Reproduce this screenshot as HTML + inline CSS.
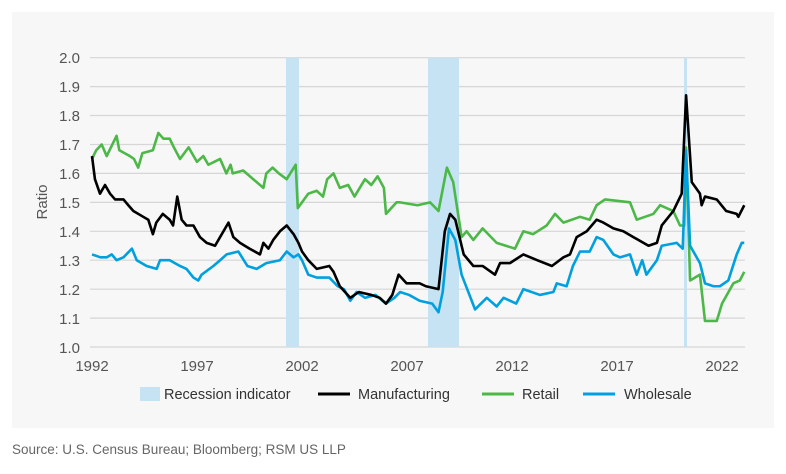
<!DOCTYPE html>
<html><head><meta charset="utf-8"><style>
body{margin:0;background:#fff;width:786px;height:469px;overflow:hidden;font-family:"Liberation Sans",sans-serif}
</style></head><body>
<svg width="786" height="469" xmlns="http://www.w3.org/2000/svg" font-family="Liberation Sans, sans-serif">
<rect x="12" y="12" width="762" height="416" fill="#f7f7f7"/>
<g stroke="#d6d6d6" stroke-width="1.2">
<line x1="90" x2="745" y1="57.7" y2="57.7"/><line x1="90" x2="745" y1="86.6" y2="86.6"/><line x1="90" x2="745" y1="115.5" y2="115.5"/><line x1="90" x2="745" y1="144.5" y2="144.5"/><line x1="90" x2="745" y1="173.4" y2="173.4"/><line x1="90" x2="745" y1="202.4" y2="202.4"/><line x1="90" x2="745" y1="231.3" y2="231.3"/><line x1="90" x2="745" y1="260.2" y2="260.2"/><line x1="90" x2="745" y1="289.2" y2="289.2"/><line x1="90" x2="745" y1="318.1" y2="318.1"/><line x1="90" x2="745" y1="347" y2="347"/>
</g>
<g fill="#c5e3f2">
<rect x="286" y="57.7" width="13" height="289.3"/>
<rect x="428" y="57.7" width="31" height="289.3"/>
<rect x="684" y="57.7" width="3" height="289.3"/>
</g>
<g font-size="15" fill="#555" text-anchor="end">
<text x="80" y="63">2.0</text><text x="80" y="92">1.9</text><text x="80" y="121">1.8</text><text x="80" y="150">1.7</text><text x="80" y="179">1.6</text><text x="80" y="208">1.5</text><text x="80" y="237">1.4</text><text x="80" y="266">1.3</text><text x="80" y="295">1.2</text><text x="80" y="324">1.1</text><text x="80" y="353">1.0</text>
</g>
<g font-size="15" fill="#555" text-anchor="middle">
<text x="92" y="371">1992</text><text x="197" y="371">1997</text><text x="302" y="371">2002</text><text x="407" y="371">2007</text><text x="512" y="371">2012</text><text x="617" y="371">2017</text><text x="722" y="371">2022</text>
</g>
<text transform="translate(47,202) rotate(-90)" font-size="15" fill="#555" text-anchor="middle">Ratio</text>
<g transform="translate(92,347) scale(21,-289.3) translate(-1992,-1)" fill="none" stroke-linejoin="round">
<polyline vector-effect="non-scaling-stroke" stroke="#4cb848" stroke-width="2.6" points="1992,1.65 1992.2,1.68 1992.46,1.70 1992.7,1.66 1993.17,1.73 1993.3,1.68 1993.8,1.66 1994.0,1.65 1994.2,1.62 1994.4,1.67 1994.9,1.68 1995.16,1.74 1995.4,1.72 1995.7,1.72 1995.9,1.69 1996.19,1.65 1996.6,1.69 1997.0,1.64 1997.3,1.66 1997.54,1.63 1998.1,1.65 1998.4,1.60 1998.6,1.63 1998.7,1.60 1999.2,1.61 1999.68,1.58 2000.16,1.55 2000.3,1.60 2000.6,1.62 2000.9,1.60 2001.27,1.58 2001.7,1.63 2001.8,1.48 2002.3,1.53 2002.7,1.54 2003.0,1.52 2003.2,1.58 2003.5,1.60 2003.8,1.55 2004.2,1.56 2004.5,1.52 2005.0,1.58 2005.3,1.56 2005.6,1.59 2005.9,1.55 2006.0,1.46 2006.5,1.50 2006.67,1.50 2007.5,1.49 2008.1,1.50 2008.5,1.47 2008.9,1.62 2009.2,1.57 2009.6,1.38 2009.84,1.40 2010.16,1.37 2010.6,1.41 2011.27,1.36 2012.14,1.34 2012.54,1.40 2013.0,1.39 2013.65,1.42 2014.05,1.46 2014.45,1.43 2015.24,1.45 2015.7,1.44 2016.03,1.49 2016.43,1.51 2017.62,1.50 2017.94,1.44 2018.73,1.46 2019.05,1.49 2019.68,1.47 2020.0,1.42 2020.2,1.42 2020.29,1.69 2020.48,1.23 2020.95,1.25 2021.19,1.09 2021.75,1.09 2022.0,1.15 2022.54,1.22 2022.85,1.23 2023.06,1.26"/>
<polyline vector-effect="non-scaling-stroke" stroke="#00a0df" stroke-width="2.6" points="1992,1.32 1992.4,1.31 1992.7,1.31 1992.94,1.32 1993.17,1.30 1993.5,1.31 1993.9,1.34 1994.13,1.30 1994.6,1.28 1995.08,1.27 1995.24,1.30 1995.7,1.30 1996.19,1.28 1996.5,1.27 1996.83,1.24 1997.06,1.23 1997.22,1.25 1997.78,1.28 1998.1,1.30 1998.41,1.32 1998.97,1.33 1999.4,1.28 1999.84,1.27 2000.3,1.29 2000.95,1.30 2001.27,1.33 2001.6,1.31 2001.83,1.32 2002.0,1.30 2002.3,1.25 2002.7,1.24 2003.3,1.24 2003.7,1.21 2004.0,1.20 2004.3,1.16 2004.6,1.19 2005.0,1.17 2005.5,1.18 2006.0,1.15 2006.4,1.17 2006.67,1.19 2007.1,1.18 2007.6,1.16 2008.2,1.15 2008.5,1.12 2008.7,1.19 2009.0,1.41 2009.3,1.37 2009.6,1.25 2010.24,1.13 2010.8,1.17 2011.27,1.14 2011.6,1.17 2012.2,1.15 2012.54,1.20 2013.33,1.18 2013.97,1.19 2014.13,1.22 2014.6,1.21 2014.9,1.28 2015.24,1.33 2015.7,1.33 2016.03,1.38 2016.35,1.37 2016.83,1.32 2017.14,1.31 2017.62,1.32 2017.94,1.25 2018.2,1.30 2018.4,1.25 2018.9,1.30 2019.13,1.35 2019.84,1.36 2020.13,1.34 2020.29,1.68 2020.48,1.35 2020.95,1.29 2021.19,1.22 2021.6,1.21 2021.9,1.21 2022.3,1.23 2022.7,1.32 2022.94,1.36 2023.06,1.36"/>
<polyline vector-effect="non-scaling-stroke" stroke="#000" stroke-width="2.6" points="1992,1.66 1992.14,1.58 1992.38,1.53 1992.62,1.56 1992.86,1.53 1993.1,1.51 1993.5,1.51 1993.73,1.49 1993.97,1.47 1994.44,1.45 1994.68,1.44 1994.9,1.39 1995.06,1.43 1995.37,1.46 1995.7,1.44 1995.86,1.42 1996.06,1.52 1996.27,1.44 1996.5,1.42 1996.83,1.42 1997.14,1.38 1997.46,1.36 1997.86,1.35 1998.1,1.38 1998.5,1.43 1998.73,1.38 1999.05,1.36 1999.5,1.34 2000.0,1.32 2000.16,1.36 2000.4,1.34 2000.63,1.37 2000.95,1.40 2001.27,1.42 2001.6,1.39 2001.83,1.36 2002.0,1.33 2002.3,1.30 2002.7,1.27 2003.3,1.28 2003.5,1.26 2003.8,1.21 2004.3,1.17 2004.7,1.19 2005.3,1.18 2005.7,1.17 2006.0,1.15 2006.3,1.18 2006.6,1.25 2006.98,1.22 2007.6,1.22 2007.9,1.21 2008.5,1.20 2008.8,1.40 2009.05,1.46 2009.3,1.44 2009.7,1.32 2010.16,1.28 2010.6,1.28 2011.19,1.25 2011.43,1.29 2011.9,1.29 2012.54,1.32 2013.2,1.30 2013.9,1.28 2014.45,1.31 2014.76,1.32 2015.08,1.38 2015.56,1.40 2016.03,1.44 2016.35,1.43 2016.83,1.41 2017.3,1.40 2017.78,1.38 2018.5,1.35 2018.9,1.36 2019.13,1.42 2019.68,1.47 2020.08,1.53 2020.29,1.87 2020.56,1.57 2020.95,1.53 2021.03,1.49 2021.19,1.52 2021.75,1.51 2022.2,1.47 2022.7,1.46 2022.78,1.45 2023.06,1.49"/>
</g>
<g font-size="14.5" fill="#333">
<rect x="140" y="387" width="20" height="14" fill="#c5e3f2"/>
<text x="164" y="399">Recession indicator</text>
<line x1="318" x2="350" y1="394" y2="394" stroke="#000" stroke-width="3"/>
<text x="358" y="399">Manufacturing</text>
<line x1="482" x2="514" y1="394" y2="394" stroke="#4cb848" stroke-width="3"/>
<text x="522" y="399">Retail</text>
<line x1="583" x2="615" y1="394" y2="394" stroke="#00a0df" stroke-width="3"/>
<text x="624" y="399">Wholesale</text>
</g>
<text x="12" y="454" font-size="13.5" fill="#666">Source: U.S. Census Bureau; Bloomberg; RSM US LLP</text>
</svg>
</body></html>
